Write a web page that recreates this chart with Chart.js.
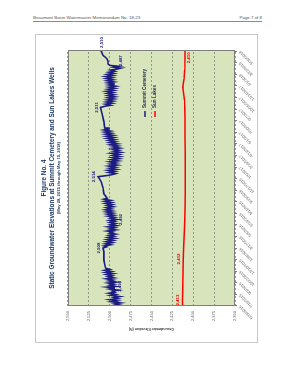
<!DOCTYPE html>
<html>
<head>
<meta charset="utf-8">
<script src="https://cdn.jsdelivr.net/npm/chart.js@4.4.1/dist/chart.umd.min.js"></script>
<style>
  html, body { margin: 0; padding: 0; background: #fff; width: 293px; height: 380px; overflow: hidden; }
  .hdr { position: absolute; top: 15px; left: 33px; width: 229px; height: 6px; border-bottom: 1px solid #8c8c8c;
         font: 4.4px "Liberation Sans", Arial, sans-serif; color: #555; line-height: 5px; }
  .hdr .r { position: absolute; right: 0; top: 0; }
  #wrap { position: absolute; left: 0; top: 0; width: 309px; height: 223px;
          transform-origin: 0 0; transform: translate(35px, 343px) rotate(-90deg); }
  #chart { outline: 1px solid #c8c8c8; outline-offset: -1px; }
</style>
</head>
<body>
<div class="hdr">Beaumont Basin Watermaster Memorandum No. 18-23<span class="r">Page 7 of 8</span></div>
<div id="wrap"><canvas id="chart" width="309" height="223"></canvas></div>
<script>
// date axis: days after 5/28/2015
const tickDays = [0, 49, 98, 147, 196, 245, 294, 343, 392, 441, 490, 539, 588, 637, 686, 735, 784, 833, 882, 931, 980, 1029, 1078];
const tickLabels = ['5/28/2015', '7/16/2015', '9/3/2015', '10/22/2015', '12/10/2015', '1/28/2016', '3/17/2016', '5/5/2016',
  '6/23/2016', '8/11/2016', '9/29/2016', '11/17/2016', '1/5/2017', '2/23/2017', '4/13/2017', '6/1/2017', '7/20/2017',
  '9/7/2017', '10/26/2017', '12/14/2017', '2/1/2018', '3/22/2018', '5/10/2018'];
const lastDay = 1083; // 5/15/2018

const summitDays = [0, 5, 9, 13, 18, 22, 27, 31, 36, 40, 45, 49, 54, 58, 63, 67, 72, 76, 80, 83, 88, 92, 97, 101, 106, 110, 115, 119, 124, 128, 133, 137, 142, 146, 151, 155, 160,
  175, 195, 215, 230, 245,
  250, 254, 259, 263, 268, 272, 277, 281, 286, 290, 295, 299, 304, 308, 313, 317, 322, 326, 331, 335, 340, 344, 349, 353, 358, 362, 366, 371, 375, 380, 384, 389, 393, 398, 402, 407, 411, 416, 420, 425, 429, 434, 438, 443, 447, 452, 456,
  475, 500, 525, 547,
  552, 556, 560, 565, 569, 574, 578, 583, 587, 592, 596, 601, 605, 610, 614, 619, 623, 628, 632, 637, 641, 646, 650, 655, 659, 664, 668, 673, 677, 682, 686, 691, 695, 700, 704, 709, 713, 718, 722, 727, 731, 736, 740, 745, 749, 753,
  780, 810, 840,
  845, 849, 854, 858, 863, 867, 872, 876, 881, 885, 890, 894, 899, 903, 908, 912, 917, 921, 926, 930, 935, 939, 944, 948, 953, 957, 962, 966, 971, 975, 980, 984, 989, 993,
  998, 1003, 1006, 1010, 1014, 1018, 1024, 1034, 1044, 1052, 1060, 1068, 1076, 1083];
const summitLevels = [2497, 2489, 2494, 2487, 2498, 2491, 2500, 2490, 2495, 2488, 2499, 2493, 2501, 2494, 2497, 2490, 2500, 2494, 2503, 2493, 2500, 2495, 2502, 2492, 2501, 2496, 2504, 2495, 2502, 2497, 2504, 2496, 2505, 2498, 2506, 2500, 2505,
  2506, 2507, 2507, 2507, 2508,
  2504, 2507, 2499, 2505, 2497, 2504, 2496, 2503, 2494, 2502, 2495, 2501, 2493, 2500, 2496, 2503, 2493, 2500, 2494, 2502, 2492, 2499, 2493, 2500, 2494, 2500, 2492, 2499, 2494, 2502, 2495, 2503, 2496, 2504, 2497, 2505, 2498, 2504, 2496, 2503, 2497, 2505, 2498, 2506, 2499, 2507, 2503,
  2507, 2508, 2510, 2514,
  2503, 2497, 2493, 2501, 2494, 2502, 2492, 2500, 2493, 2501, 2491, 2499, 2492, 2500, 2490, 2498, 2489, 2497, 2488, 2496, 2489, 2498, 2487, 2495, 2489, 2497, 2488, 2496, 2490, 2499, 2491, 2500, 2493, 2501, 2494, 2503, 2495, 2504, 2496, 2505, 2498, 2506, 2499, 2507, 2501, 2506,
  2507, 2509, 2511,
  2506, 2499, 2505, 2497, 2504, 2496, 2503, 2495, 2502, 2494, 2502, 2495, 2503, 2496, 2504, 2495, 2502, 2494, 2501, 2493, 2501, 2494, 2502, 2495, 2503, 2496, 2504, 2497, 2505, 2496, 2503, 2495, 2501, 2494,
  2499, 2490, 2487, 2495, 2489, 2500, 2502, 2502, 2503, 2505, 2508, 2509, 2510, 2510];

const sunDays = [0, 25, 80, 140, 199, 260, 330, 400, 480, 560, 640, 720, 800, 870, 926, 960, 1000, 1050, 1083];
const sunLevels = [2413, 2413, 2412.7, 2412.3, 2412, 2411.4, 2410.6, 2410, 2409.6, 2409.5, 2409.6, 2409.8, 2410, 2410.5, 2412.5, 2411, 2410.2, 2410, 2409.8];

// labelled readings (day, side of the point in chart orientation)
const summitTagDays = [83, 245, 366, 547, 840, 1006, 1083];
const summitTagSides = ['below', 'above', 'below', 'above', 'above', 'right', 'right'];
const sunTagDays = [25, 199, 1050];
const sunTagSides = ['above', 'above', 'below'];

const titleLines = ['Figure No. 4', 'Static Groundwater Elevations at Summit Cemetery and Sun Lakes Wells'];
const subTitle = '(May 28, 2015 through May 15, 2018)';

const navy = '#1b1b82';
const red = '#ff0000';
const family = '"Liberation Sans", Arial, sans-serif';

const plotFrame = {
  id: 'plotFrame',
  beforeDraw(chart) {
    const a = chart.chartArea, ctx = chart.ctx;
    ctx.save();
    ctx.fillStyle = '#d8e4bc';
    ctx.fillRect(a.left, a.top, a.right - a.left, a.bottom - a.top);
    ctx.restore();
  },
  afterDraw(chart) {
    const a = chart.chartArea, ctx = chart.ctx;
    ctx.save();
    ctx.strokeStyle = '#7f7f7f';
    ctx.lineWidth = 1;
    ctx.strokeRect(a.left + 0.5, a.top + 0.5, a.right - a.left - 1, a.bottom - a.top - 1);
    ctx.restore();
  }
};

const pointTags = {
  id: 'pointTags',
  afterDatasetsDraw(chart) {
    const ctx = chart.ctx;
    const sets = [[0, summitDays, summitLevels, summitTagDays, summitTagSides, navy],
                  [1, sunDays, sunLevels, sunTagDays, sunTagSides, '#e00000']];
    ctx.save();
    ctx.font = 'bold 4.4px ' + family;
    sets.forEach(([ds, days, levels, tagDays, sides, color]) => {
      const meta = chart.getDatasetMeta(ds);
      ctx.fillStyle = color;
      tagDays.forEach((d, k) => {
        const i = days.indexOf(d);
        const pt = meta.data[i];
        const txt = Math.round(levels[i]).toLocaleString('en-US');
        let x = pt.x, y = pt.y;
        if (sides[k] === 'above') { ctx.textAlign = 'center'; ctx.textBaseline = 'bottom'; y -= 2; }
        else if (sides[k] === 'below') { ctx.textAlign = 'center'; ctx.textBaseline = 'top'; y += 2; }
        else { ctx.textAlign = 'left'; ctx.textBaseline = 'middle'; x += 2; }
        ctx.fillText(txt, x, y);
      });
    });
    ctx.restore();
  }
};

const innerLegend = {
  id: 'innerLegend',
  afterDraw(chart) {
    const ctx = chart.ctx;
    const x0 = 226, y0 = 110;
    ctx.save();
    ctx.font = 'bold 4.6px ' + family;
    ctx.textBaseline = 'middle';
    chart.data.datasets.forEach((ds, i) => {
      const y = y0 + i * 10;
      ctx.strokeStyle = ds.borderColor;
      ctx.lineWidth = 1.5;
      ctx.beginPath();
      ctx.moveTo(x0, y);
      ctx.lineTo(x0 + 6, y);
      ctx.stroke();
      ctx.fillStyle = '#1f2a44';
      ctx.fillText(ds.label, x0 + 9, y);
    });
    ctx.restore();
  }
};

new Chart(document.getElementById('chart'), {
  type: 'line',
  data: {
    datasets: [
      {
        label: 'Summit Cemetery',
        data: summitDays.map((d, i) => ({ x: d, y: summitLevels[i] })),
        borderColor: navy,
        borderWidth: 1.6,
        pointRadius: 0,
        tension: 0
      },
      {
        label: 'Sun Lakes',
        data: sunDays.map((d, i) => ({ x: d, y: sunLevels[i] })),
        borderColor: red,
        borderWidth: 1.5,
        pointRadius: 0,
        tension: 0
      }
    ]
  },
  options: {
    responsive: false,
    animation: false,
    layout: { padding: { left: 0, right: 16, top: 0, bottom: 0 } },
    plugins: {
      legend: { display: false },
      tooltip: { enabled: false },
      title: {
        display: true,
        text: titleLines,
        fullSize: false,
        color: '#17375e',
        font: { family: family, size: 6.4, weight: 'bold', lineHeight: 1.12 },
        padding: { top: 6, bottom: 1 }
      },
      subtitle: {
        display: true,
        text: subTitle,
        fullSize: false,
        color: '#17375e',
        font: { family: family, size: 4.2, weight: 'bold', lineHeight: 1.2 },
        padding: { top: 0, bottom: 6.6 }
      }
    },
    scales: {
      x: {
        type: 'linear',
        min: 0,
        max: lastDay,
        afterBuildTicks: (scale) => { scale.ticks = tickDays.map(v => ({ value: v })); },
        afterFit: (scale) => { scale.height = 23; },
        grid: { display: true, drawOnChartArea: false, tickLength: 2, color: '#7f7f7f' },
        border: { display: false },
        ticks: {
          autoSkip: false,
          minRotation: 45,
          maxRotation: 45,
          padding: 1,
          color: '#595959',
          font: { family: family, size: 4 },
          callback: (v, i) => tickLabels[i]
        }
      },
      y: {
        min: 2350,
        max: 2550,
        afterFit: (scale) => { scale.width = 37; },
        grid: { color: '#7f7f7f', lineWidth: 0.8, drawTicks: false },
        border: { display: false, dash: [2, 2] },
        ticks: {
          stepSize: 25,
          padding: 5,
          color: '#595959',
          font: { family: family, size: 4 }
        },
        title: {
          display: true,
          text: 'Groundwater Elevation (ft)',
          color: '#404040',
          font: { family: family, size: 3.6, weight: 'bold' },
          padding: { top: 12, bottom: 0 }
        }
      }
    }
  },
  plugins: [plotFrame, pointTags, innerLegend]
});
</script>
</body>
</html>
